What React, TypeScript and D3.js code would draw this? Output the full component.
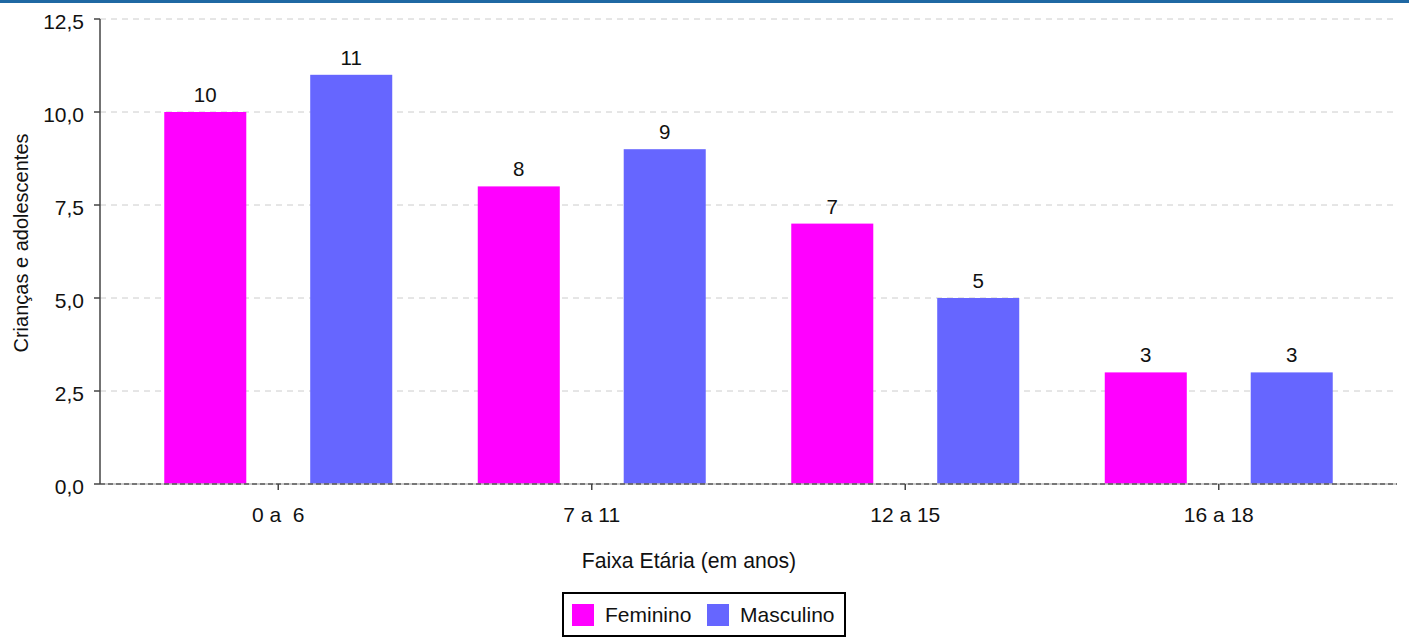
import React from "react";
import * as d3 from "d3";

const categories = ["0 a  6", "7 a 11", "12 a 15", "16 a 18"];
const seriesNames = ["Feminino", "Masculino"];
const feminino = [10, 8, 7, 3];
const masculino = [11, 9, 5, 3];
const yTicks = [0, 2.5, 5, 7.5, 10, 12.5];
const colors = ["#FF00FF", "#6666FF"];

const W = 1409;
const H = 638;
const FONT = "'Liberation Sans', Arial, sans-serif";

export default function App() {
  const plotLeft = 100;
  const plotRight = 1397;
  const y = d3.scaleLinear().domain([0, 12.5]).range([484, 19]);
  const x0 = d3.scaleBand<string>().domain(categories).range([121.5, 1375.5]);
  const x1 = d3
    .scaleBand<string>()
    .domain(seriesNames)
    .range([0, x0.bandwidth()])
    .paddingInner(0.438)
    .paddingOuter(0.293);
  const values = [feminino, masculino];
  const fmt = (v: number) => d3.format(".1f")(v).replace(".", ",");

  return (
    <svg
      width={W}
      height={H}
      style={{ position: "absolute", left: 0, top: 0, display: "block" }}
      fontFamily={FONT}
    >
      <rect x={0} y={0} width={W} height={H} fill="#fff" />
      <rect x={0} y={0} width={W} height={3} fill="#1f68a3" />
      {/* gridlines */}
      {yTicks.filter((t) => t > 0).map((t) => (
        <line
          key={t}
          x1={plotLeft}
          x2={plotRight}
          y1={y(t)}
          y2={y(t)}
          stroke="#cccccc"
          strokeWidth={1}
          strokeDasharray="6,5"
        />
      ))}
      {/* bars */}
      {categories.map((c, i) => (
        <g key={c} transform={`translate(${x0(c)},0)`}>
          {seriesNames.map((s, j) => {
            const v = values[j][i];
            const bx = x1(s)!;
            return (
              <g key={s}>
                <rect
                  x={bx}
                  y={y(v)}
                  width={x1.bandwidth()}
                  height={y(0) - y(v)}
                  fill={colors[j]}
                />
                <text
                  x={bx + x1.bandwidth() / 2}
                  y={y(v) - 10}
                  textAnchor="middle"
                  fontSize={20.5}
                  fill="#111"
                >
                  {v}
                </text>
              </g>
            );
          })}
        </g>
      ))}
      {/* baseline */}
      <line x1={plotLeft} x2={plotRight} y1={y(0)} y2={y(0)} stroke="#bbbbbb" strokeWidth={1.5} />
      <line x1={plotLeft} x2={plotRight} y1={y(0)} y2={y(0)} stroke="#222" strokeWidth={1.2} strokeDasharray="5,3" />
      {/* y axis */}
      <line x1={plotLeft} x2={plotLeft} y1={y(12.5)} y2={y(0)} stroke="#444" strokeWidth={1.5} />
      {yTicks.map((t) => (
        <g key={t}>
          <line x1={plotLeft - 6} x2={plotLeft} y1={y(t)} y2={y(t)} stroke="#444" strokeWidth={1.5} />
          <text x={84} y={y(t) + 9.5} textAnchor="end" fontSize={21} fill="#111">
            {fmt(t)}
          </text>
        </g>
      ))}
      {/* x ticks */}
      {categories.map((c) => {
        const cx = x0(c)! + x0.bandwidth() / 2;
        return (
          <g key={c}>
            <line x1={cx} x2={cx} y1={y(0)} y2={y(0) + 6} stroke="#444" strokeWidth={1.5} />
            <text x={cx} y={522} textAnchor="middle" fontSize={21} fill="#111" style={{ whiteSpace: "pre" }}>
              {c}
            </text>
          </g>
        );
      })}
      <text x={689} y={568} textAnchor="middle" fontSize={21.2} fill="#111">
        Faixa Etária (em anos)
      </text>
      <text
        transform={`translate(28,243) rotate(-90)`}
        textAnchor="middle"
        fontSize={20}
        fill="#111"
      >
        Crianças e adolescentes
      </text>
      {/* legend */}
      <rect x={563} y={593} width={282} height={43} fill="#fff" stroke="#000" strokeWidth={2} />
      {seriesNames.map((s, j) => {
        const lx = j === 0 ? 572 : 707;
        return (
          <g key={s}>
            <rect x={lx} y={604} width={22} height={22} fill={colors[j]} />
            <text x={lx + 33} y={622} fontSize={21} fill="#111">
              {s}
            </text>
          </g>
        );
      })}
    </svg>
  );
}
